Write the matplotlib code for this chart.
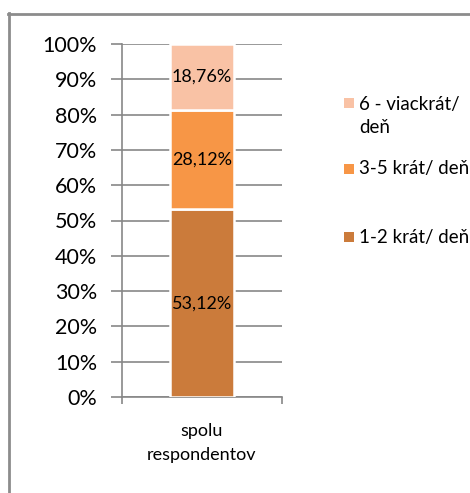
import matplotlib
matplotlib.use("Agg")
import matplotlib.pyplot as plt
from matplotlib.lines import Line2D
from matplotlib.patches import Rectangle

plt.rcParams['font.family'] = ['Lato', 'DejaVu Sans']

category = "spolu\nrespondentov"
series_labels = ["1-2 krát/ deň", "3-5 krát/ deň", "6 - viackrát/\ndeň"]
series_values = [53.12, 28.12, 18.76]
value_labels = ["53,12%", "28,12%", "18,76%"]
series_colors = ["#CB7B3B", "#F79646", "#F9C2A5"]
yticks = [0, 10, 20, 30, 40, 50, 60, 70, 80, 90, 100]
ytick_labels = [f"{v}%" for v in yticks]

W, H = 470, 493
fig = plt.figure(figsize=(W / 100, H / 100), dpi=100)
ax = fig.add_axes([122 / W, 96 / H, 160 / W, 353 / H])

grid_color = "#878787"
bottom = 0.0
for val, lab, col in zip(series_values, value_labels, series_colors):
    ax.bar(0, val, width=0.4, bottom=bottom, color=col, edgecolor="white",
           linewidth=1.8, zorder=3)
    ax.text(0, bottom + val / 2, lab, ha="center", va="center",
            fontsize=13, color="black", zorder=4)
    bottom += val

ax.set_xlim(-0.5, 0.5)
ax.set_ylim(0, 100)
ax.set_yticks(yticks)
ax.set_yticklabels(ytick_labels, fontsize=15.5)
ax.yaxis.grid(True, color=grid_color, linewidth=1.2, zorder=0)
ax.tick_params(axis="y", direction="out", length=8, width=1.2,
               color=grid_color, pad=10)

ax.set_xticks([0])
ax.set_xticklabels([category], fontsize=13, linespacing=1.55)
ax.set_xticks([-0.5, 0.5], minor=True)
ax.tick_params(axis="x", which="major", length=0, pad=19)
ax.tick_params(axis="x", which="minor", direction="out", length=5,
               width=1.2, color=grid_color)

for side in ("top", "right"):
    ax.spines[side].set_visible(False)
for side in ("left", "bottom"):
    ax.spines[side].set_color(grid_color)
    ax.spines[side].set_linewidth(1.2)
ax.spines["bottom"].set_bounds(-0.5, 0.5)

# legend drawn in figure pixels: (series index, square centre y, text centre y)
legend_rows = [(2, 103, 116), (1, 168.5, 168.5), (0, 237, 237)]
for idx, sq_y, txt_y in legend_rows:
    fig.patches.append(Rectangle((344 / W, 1 - (sq_y + 5) / H), 10 / W, 10 / H,
                                 transform=fig.transFigure,
                                 facecolor=series_colors[idx], edgecolor="none"))
    fig.text(359 / W, 1 - txt_y / H, series_labels[idx], fontsize=13.5,
             ha="left", va="center", linespacing=1.4)

# outer chart frame
fig.lines.append(Line2D([8.5 / W, 8.5 / W], [0, 1 - 13 / H],
                        transform=fig.transFigure, color="#8C8C8C", linewidth=2))
fig.lines.append(Line2D([8 / W, 1], [1 - 13.5 / H, 1 - 13.5 / H],
                        transform=fig.transFigure, color="#8C8C8C", linewidth=2))

fig.savefig("out.png", dpi=100)
